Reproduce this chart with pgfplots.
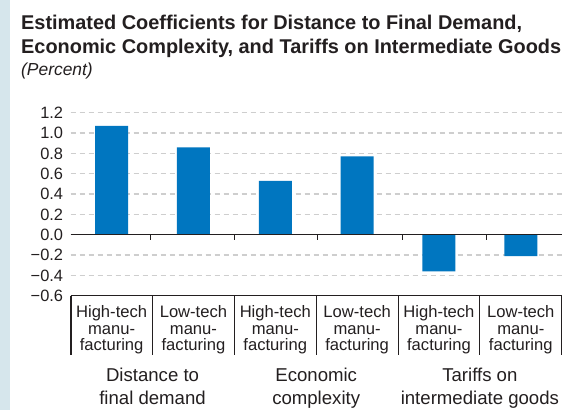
\documentclass[border=0pt]{standalone}
\usepackage{pgfplots}
\pgfplotsset{compat=1.18}
\usepackage{fontspec}
\setmainfont{Liberation Sans}
\definecolor{barblue}{RGB}{0,118,192}
\definecolor{strip}{RGB}{214,230,236}
\definecolor{gridgray}{RGB}{206,206,206}
\definecolor{axisdark}{RGB}{35,31,32}
\begin{document}
\begin{tikzpicture}
\fill[white] (0,0) rectangle (581pt,410pt);
\path[use as bounding box] (0,0) rectangle (581pt,410pt);
\fill[strip] (0,0) rectangle (10pt,410pt);
\node[anchor=base west, inner sep=0pt, font=\fontsize{19.9}{24}\selectfont\bfseries, text=axisdark] at (21pt,380.7pt) {Estimated Coefficients for Distance to Final Demand,};
\node[anchor=base west, inner sep=0pt, font=\fontsize{19.9}{24}\selectfont\bfseries, text=axisdark] at (21pt,356.7pt) {Economic Complexity, and Tariffs on Intermediate Goods};
\node[anchor=base west, inner sep=0pt, font=\fontsize{17.4}{20}\selectfont\itshape, text=axisdark] at (21pt,334pt) {(Percent)};
\begin{axis}[
  at={(70.7pt,114.3pt)}, anchor=south west,
  scale only axis, width=491pt, height=183pt,
  xmin=-0.5, xmax=5.5, ymin=-0.6, ymax=1.2,
  clip=false,
  axis line style={draw=none},
  major tick length=0pt,
  /pgf/number format/assume math mode=true,
  ytick={-0.6,-0.4,-0.2,0,0.2,0.4,0.6,0.8,1.0,1.2},
  yticklabels={−0.6,−0.4,−0.2,0.0,0.2,0.4,0.6,0.8,1.0,1.2},
  yticklabel style={font=\fontsize{16.4}{16.4}\selectfont, inner sep=0pt, xshift=-7.4pt, anchor=east, text=axisdark},
  ymajorgrids,
  grid style={dash pattern=on 5pt off 4pt, line width=1.2pt, gridgray},
  xtick={0,1,2,3,4,5},
  xticklabels={{High-tech\\manu-\\facturing},{Low-tech\\manu-\\facturing},{High-tech\\manu-\\facturing},{Low-tech\\manu-\\facturing},{High-tech\\manu-\\facturing},{Low-tech\\manu-\\facturing}},
  xticklabel style={align=center, anchor=north, inner sep=0pt, yshift=-9.6pt, font=\fontsize{16.6}{16.7}\selectfont, text=axisdark},
]
\addplot[ybar, bar width=33pt, fill=barblue, draw=none] coordinates {
  (0,1.07) (1,0.86) (2,0.53) (3,0.77) (4,-0.36) (5,-0.21)
};
\draw[axisdark, line width=1.3pt] (axis cs:-0.5,0) -- (axis cs:5.5,0);
\draw[axisdark, line width=1.2pt] (axis cs:0.48,0) -- ++(0pt,-5.7pt);
\draw[axisdark, line width=1.2pt] (axis cs:1.50,0) -- ++(0pt,-5.7pt);
\draw[axisdark, line width=1.2pt] (axis cs:2.52,0) -- ++(0pt,-5.7pt);
\draw[axisdark, line width=1.2pt] (axis cs:3.55,0) -- ++(0pt,-5.7pt);
\draw[axisdark, line width=1.2pt] (axis cs:4.58,0) -- ++(0pt,-5.7pt);
\draw[axisdark, line width=1.2pt] (axis cs:-0.5,-0.6) -- (axis cs:5.5,-0.6);
\draw[axisdark, line width=1.6pt] (axis cs:-0.5,-0.6) -- ++(0pt,-59.3pt);
\draw[axisdark, line width=1pt] (axis cs:0.5,-0.6) -- ++(0pt,-59.3pt);
\draw[axisdark, line width=1pt] (axis cs:1.5,-0.6) -- ++(0pt,-59.3pt);
\draw[axisdark, line width=1pt] (axis cs:2.5,-0.6) -- ++(0pt,-59.3pt);
\draw[axisdark, line width=1pt] (axis cs:3.5,-0.6) -- ++(0pt,-59.3pt);
\draw[axisdark, line width=1pt] (axis cs:4.5,-0.6) -- ++(0pt,-59.3pt);
\draw[axisdark, line width=1pt] (axis cs:5.5,-0.6) -- ++(0pt,-59.3pt);
\node[anchor=base, inner sep=0pt, font=\fontsize{18.6}{22}\selectfont, text=axisdark] at ([yshift=-85.3pt]axis cs:0.5,-0.6) {Distance to};
\node[anchor=base, inner sep=0pt, font=\fontsize{18.6}{22}\selectfont, text=axisdark] at ([yshift=-108.3pt]axis cs:0.5,-0.6) {final demand};
\node[anchor=base, inner sep=0pt, font=\fontsize{18.6}{22}\selectfont, text=axisdark] at ([yshift=-85.3pt]axis cs:2.5,-0.6) {Economic};
\node[anchor=base, inner sep=0pt, font=\fontsize{18.6}{22}\selectfont, text=axisdark] at ([yshift=-108.3pt]axis cs:2.5,-0.6) {complexity};
\node[anchor=base, inner sep=0pt, font=\fontsize{18.6}{22}\selectfont, text=axisdark] at ([yshift=-85.3pt]axis cs:4.5,-0.6) {Tariffs on};
\node[anchor=base, inner sep=0pt, font=\fontsize{18.6}{22}\selectfont, text=axisdark] at ([yshift=-108.3pt]axis cs:4.5,-0.6) {intermediate goods};
\end{axis}
\end{tikzpicture}
\end{document}
